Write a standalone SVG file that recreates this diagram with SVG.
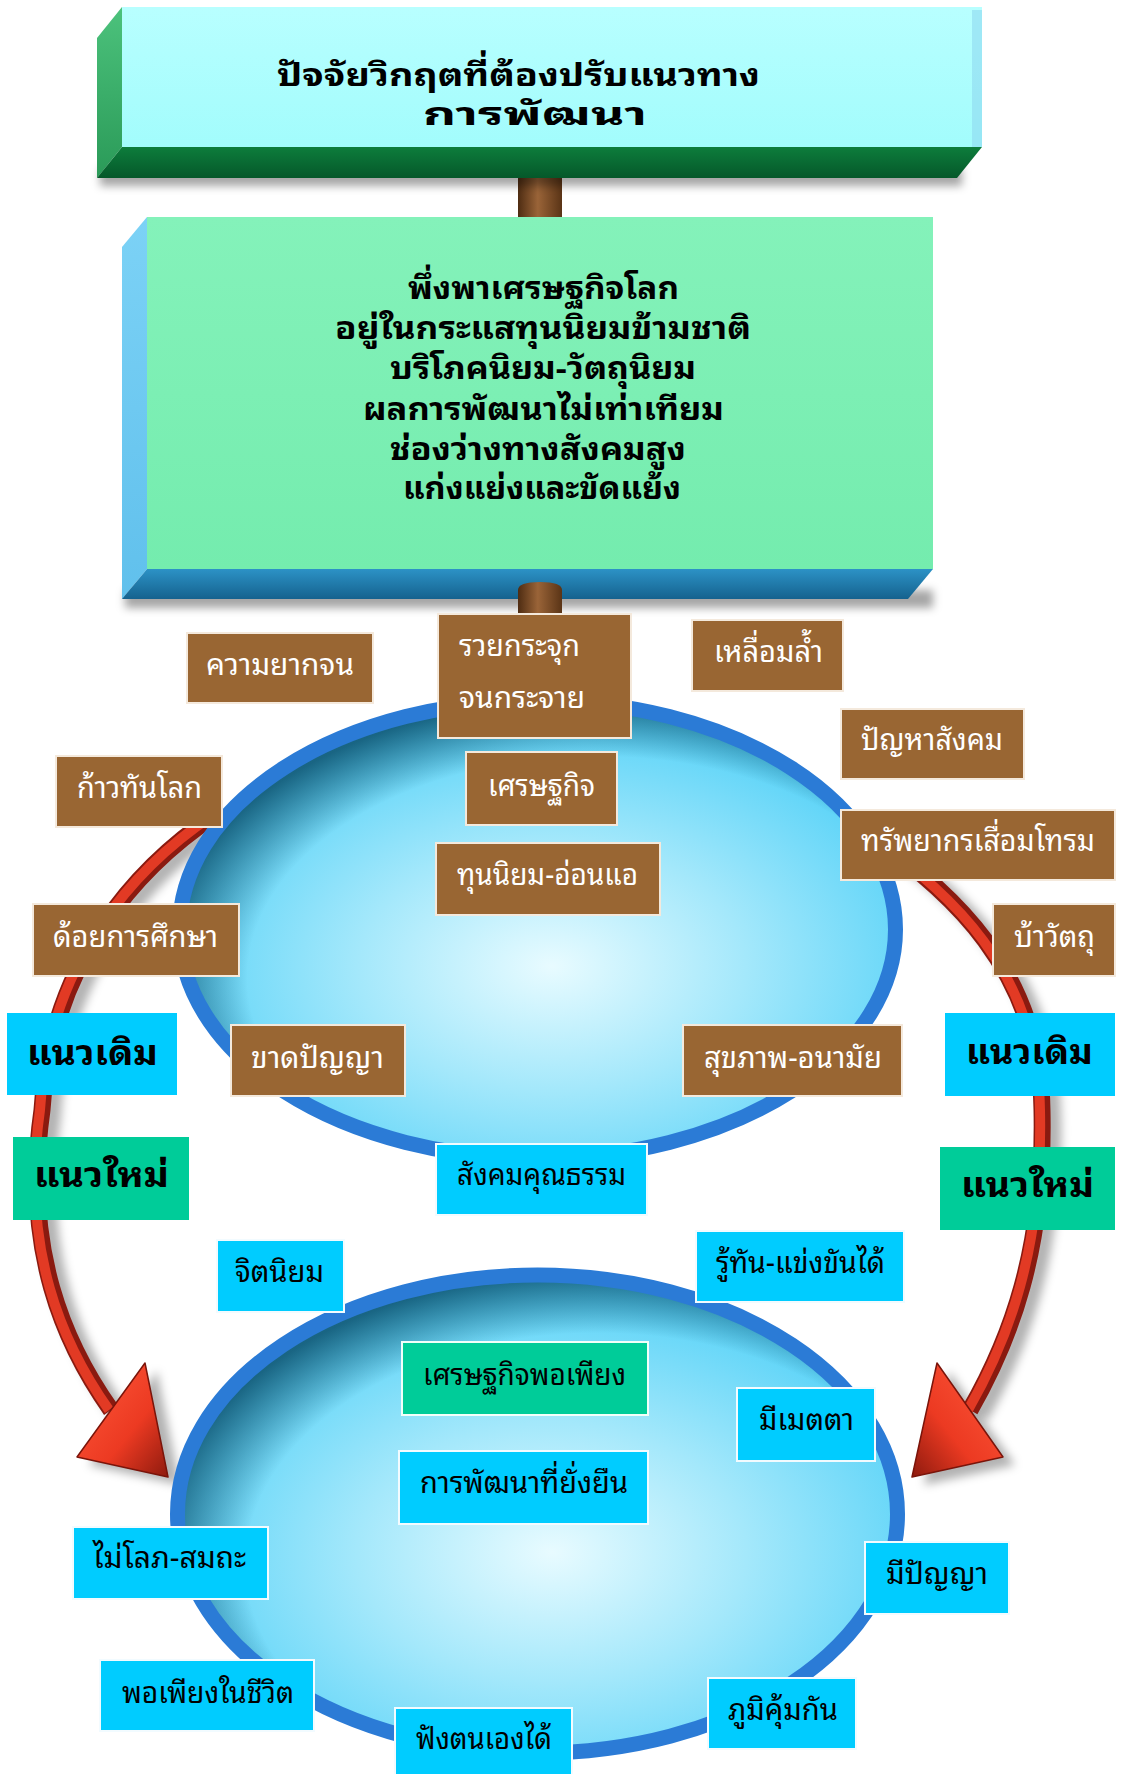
<svg xmlns="http://www.w3.org/2000/svg" width="1125" height="1774" viewBox="0 0 1125 1774">
<defs>
<style>
.th{font-family:'Noto Sans Thai Looped','Noto Sans Thai','Noto Sans','DejaVu Sans',sans-serif}
.big{font-size:32px;font-weight:bold;fill:#000}
.main{font-size:31px;font-weight:bold;fill:#000}
.lt{font-size:30px;fill:#fff}
.dt{font-size:30px;fill:#000}
.lab{font-size:34px;font-weight:bold;fill:#000}
.br{fill:#996633;stroke:#f4e9dc;stroke-width:2}
.cy{fill:#00ccff;stroke:#f2fbff;stroke-width:2}
.gr{fill:#00cc99;stroke:#f2fffa;stroke-width:2}
.ring{stroke:#2b7bd6;stroke-width:15}
</style>
<linearGradient id="g1f" x1="0" y1="0" x2="0" y2="1"><stop offset="0" stop-color="#b8ffff"/><stop offset="1" stop-color="#a2fcfc"/></linearGradient>
<linearGradient id="g1l" x1="0" y1="0" x2="0" y2="1"><stop offset="0" stop-color="#4cc27c"/><stop offset="1" stop-color="#2a9a58"/></linearGradient>
<linearGradient id="g1b" x1="0" y1="0" x2="0" y2="1"><stop offset="0" stop-color="#0d7d3c"/><stop offset="1" stop-color="#05582a"/></linearGradient>
<linearGradient id="g2f" x1="0" y1="0" x2="0" y2="1"><stop offset="0" stop-color="#84f2ba"/><stop offset="1" stop-color="#74ecae"/></linearGradient>
<linearGradient id="g2l" x1="0" y1="0" x2="0" y2="1"><stop offset="0" stop-color="#7cd2f6"/><stop offset="1" stop-color="#60c0ec"/></linearGradient>
<linearGradient id="g2b" x1="0" y1="0" x2="0" y2="1"><stop offset="0" stop-color="#2c92c6"/><stop offset="1" stop-color="#15628e"/></linearGradient>
<linearGradient id="post" x1="0" y1="0" x2="1" y2="0"><stop offset="0" stop-color="#4e2c12"/><stop offset="0.45" stop-color="#9a6438"/><stop offset="1" stop-color="#5a3416"/></linearGradient>
<radialGradient id="egg" cx="0.52" cy="0.58" r="0.6"><stop offset="0" stop-color="#e8fbff"/><stop offset="0.45" stop-color="#a4e8fb"/><stop offset="1" stop-color="#4ccff7"/></radialGradient>
<radialGradient id="ish" cx="0.58" cy="0.6" r="0.62" fx="0.6" fy="0.64"><stop offset="0.8" stop-color="#0a4a66" stop-opacity="0"/><stop offset="1" stop-color="#0a4a66" stop-opacity="0.8"/></radialGradient>
<linearGradient id="headL" x1="0" y1="0" x2="1" y2="1"><stop offset="0" stop-color="#ff5a3c"/><stop offset="0.6" stop-color="#ec3a22"/><stop offset="1" stop-color="#8e1a0e"/></linearGradient>
<linearGradient id="headR" x1="1" y1="0" x2="0" y2="1"><stop offset="0" stop-color="#ff5a3c"/><stop offset="0.6" stop-color="#ec3a22"/><stop offset="1" stop-color="#8e1a0e"/></linearGradient>
<filter id="blur" x="-20%" y="-20%" width="140%" height="140%"><feGaussianBlur stdDeviation="5"/></filter>
<filter id="blur2" x="-20%" y="-50%" width="140%" height="200%"><feGaussianBlur stdDeviation="4"/></filter>
</defs>
<rect width="1125" height="1774" fill="#fff"/>

<g id="connectors">
  <rect x="518" y="170" width="44" height="56" fill="url(#post)"/>
  <g id="arrow-left">
    <path d="M215,815 C140,865 50,960 42,1110 C22,1250 65,1345 111,1410" fill="none" stroke="#000" stroke-opacity="0.3" stroke-width="18" transform="translate(10,6)" filter="url(#blur)"/>
    <polygon points="145,1363 77,1457 168,1477" fill="#000" fill-opacity="0.3" transform="translate(12,8)" filter="url(#blur)"/>
    <path d="M215,815 C140,865 50,960 42,1110 C22,1250 65,1345 111,1410" fill="none" stroke="#8a1a10" stroke-width="17"/>
    <path d="M215,815 C140,865 50,960 42,1110 C22,1250 65,1345 111,1410" fill="none" stroke="#e23a24" stroke-width="10" transform="translate(-2,0)"/>
    <polygon points="145,1363 77,1457 168,1477" fill="url(#headL)" stroke="#7a140a" stroke-width="1.5" stroke-linejoin="round"/>
  </g>
  <g id="arrow-right">
    <path d="M870,835 C950,890 1040,970 1042,1110 C1045,1250 1010,1340 970,1410" fill="none" stroke="#000" stroke-opacity="0.3" stroke-width="18" transform="translate(10,6)" filter="url(#blur)"/>
    <polygon points="937,1363 1003,1457 912,1477" fill="#000" fill-opacity="0.3" transform="translate(12,8)" filter="url(#blur)"/>
    <path d="M870,835 C950,890 1040,970 1042,1110 C1045,1250 1010,1340 970,1410" fill="none" stroke="#8a1a10" stroke-width="17"/>
    <path d="M870,835 C950,890 1040,970 1042,1110 C1045,1250 1010,1340 970,1410" fill="none" stroke="#e23a24" stroke-width="10" transform="translate(-2,0)"/>
    <polygon points="937,1363 1003,1457 912,1477" fill="url(#headR)" stroke="#7a140a" stroke-width="1.5" stroke-linejoin="round"/>
  </g>
</g>

<g id="ellipse-top">
  <ellipse cx="537.5" cy="929.5" rx="358" ry="229" fill="url(#egg)"/>
  <ellipse cx="537.5" cy="929.5" rx="352" ry="223" fill="url(#ish)"/>
  <ellipse cx="537.5" cy="929.5" rx="358" ry="229" fill="none" class="ring"/>
</g>
<g id="ellipse-bottom">
  <ellipse cx="537.5" cy="1514" rx="360" ry="239" fill="url(#egg)"/>
  <ellipse cx="537.5" cy="1514" rx="354" ry="233" fill="url(#ish)"/>
  <ellipse cx="537.5" cy="1514" rx="360" ry="239" fill="none" class="ring"/>
</g>

<g id="box-title">
  <rect x="100" y="168" width="862" height="18" fill="#000" fill-opacity="0.35" filter="url(#blur2)"/>
  <rect x="122" y="7" width="860" height="140" fill="url(#g1f)"/>
  <rect x="972" y="10" width="10" height="137" fill="#8fd8f0" opacity="0.6"/>
  <polygon points="122,7 97,38 97,178 122,147" fill="url(#g1l)"/>
  <polygon points="122,147 982,147 957,178 97,178" fill="url(#g1b)"/>
  <text class="th big"><tspan x="277" y="86" textLength="483" lengthAdjust="spacingAndGlyphs">ปัจจัยวิกฤตที่ต้องปรับแนวทาง</tspan><tspan x="423" y="125" textLength="224" lengthAdjust="spacingAndGlyphs">การพัฒนา</tspan></text>
</g>

<g id="box-causes">
  <rect x="125" y="590" width="808" height="18" fill="#000" fill-opacity="0.35" filter="url(#blur2)"/>
  <rect x="147" y="217" width="786" height="352" fill="url(#g2f)"/>
  <polygon points="147,217 122,247 122,599 147,569" fill="url(#g2l)"/>
  <polygon points="147,569 933,569 908,599 122,599" fill="url(#g2b)"/>
  <text class="th main"><tspan x="408" y="299" textLength="271" lengthAdjust="spacingAndGlyphs">พึ่งพาเศรษฐกิจโลก</tspan><tspan x="335" y="339" textLength="416" lengthAdjust="spacingAndGlyphs">อยู่ในกระแสทุนนิยมข้ามชาติ</tspan><tspan x="390" y="379" textLength="306" lengthAdjust="spacingAndGlyphs">บริโภคนิยม-วัตถุนิยม</tspan><tspan x="363" y="420" textLength="361" lengthAdjust="spacingAndGlyphs">ผลการพัฒนาไม่เท่าเทียม</tspan><tspan x="390" y="460" textLength="296" lengthAdjust="spacingAndGlyphs">ช่องว่างทางสังคมสูง</tspan><tspan x="403" y="499" textLength="278" lengthAdjust="spacingAndGlyphs">แก่งแย่งและขัดแย้ง</tspan></text>
</g>
<path id="post2" d="M518,620 V590 Q518,582 540,582 Q562,582 562,590 V620 Z" fill="url(#post)"/>

<g id="n-poverty"><rect class="br" x="187" y="633" width="186" height="70"/><text class="th lt" x="206" y="675" textLength="148" lengthAdjust="spacingAndGlyphs">ความยากจน</text></g>
<g id="n-rich"><rect class="br" x="438" y="614" width="193" height="124"/><text class="th lt"><tspan x="459" y="656" textLength="121" lengthAdjust="spacingAndGlyphs">รวยกระจุก</tspan><tspan x="459" y="708" textLength="126" lengthAdjust="spacingAndGlyphs">จนกระจาย</tspan></text></g>
<g id="n-inequal"><rect class="br" x="692" y="620" width="151" height="71"/><text class="th lt" x="714" y="662" textLength="109" lengthAdjust="spacingAndGlyphs">เหลื่อมล้ำ</text></g>
<g id="n-social"><rect class="br" x="841" y="709" width="183" height="70"/><text class="th lt" x="861" y="750" textLength="142" lengthAdjust="spacingAndGlyphs">ปัญหาสังคม</text></g>
<g id="n-keepup"><rect class="br" x="56" y="756" width="166" height="71"/><text class="th lt" x="77" y="798" textLength="125" lengthAdjust="spacingAndGlyphs">ก้าวทันโลก</text></g>
<g id="n-econ"><rect class="br" x="466" y="752" width="151" height="73"/><text class="th lt" x="488" y="796" textLength="107" lengthAdjust="spacingAndGlyphs">เศรษฐกิจ</text></g>
<g id="n-resource"><rect class="br" x="841" y="810" width="274" height="70"/><text class="th lt" x="861" y="851" textLength="234" lengthAdjust="spacingAndGlyphs">ทรัพยากรเสื่อมโทรม</text></g>
<g id="n-capital"><rect class="br" x="436" y="843" width="224" height="72"/><text class="th lt" x="457" y="885" textLength="181" lengthAdjust="spacingAndGlyphs">ทุนนิยม-อ่อนแอ</text></g>
<g id="n-edu"><rect class="br" x="33" y="904" width="206" height="72"/><text class="th lt" x="53" y="947" textLength="165" lengthAdjust="spacingAndGlyphs">ด้อยการศึกษา</text></g>
<g id="n-material"><rect class="br" x="993" y="904" width="122" height="72"/><text class="th lt" x="1014" y="947" textLength="81" lengthAdjust="spacingAndGlyphs">บ้าวัตถุ</text></g>
<g id="n-nowisdom"><rect class="br" x="231" y="1025" width="174" height="71"/><text class="th lt" x="251" y="1068" textLength="133" lengthAdjust="spacingAndGlyphs">ขาดปัญญา</text></g>
<g id="n-health"><rect class="br" x="683" y="1025" width="219" height="71"/><text class="th lt" x="704" y="1068" textLength="178" lengthAdjust="spacingAndGlyphs">สุขภาพ-อนามัย</text></g>

<g id="n-old-left"><rect x="7" y="1013" width="170" height="82" fill="#00ccff"/><text class="th lab" x="27" y="1065" textLength="131" lengthAdjust="spacingAndGlyphs">แนวเดิม</text></g>
<g id="n-old-right"><rect x="945" y="1013" width="170" height="83" fill="#00ccff"/><text class="th lab" x="966" y="1064" textLength="127" lengthAdjust="spacingAndGlyphs">แนวเดิม</text></g>
<g id="n-new-left"><rect x="13" y="1137" width="176" height="83" fill="#00cc99"/><text class="th lab" x="34" y="1187" textLength="135" lengthAdjust="spacingAndGlyphs">แนวใหม่</text></g>
<g id="n-new-right"><rect x="940" y="1147" width="175" height="83" fill="#00cc99"/><text class="th lab" x="961" y="1197" textLength="133" lengthAdjust="spacingAndGlyphs">แนวใหม่</text></g>

<g id="n-moral"><rect class="cy" x="436" y="1144" width="211" height="71"/><text class="th dt" x="457" y="1185" textLength="169" lengthAdjust="spacingAndGlyphs">สังคมคุณธรรม</text></g>
<g id="n-mind"><rect class="cy" x="217" y="1240" width="127" height="72"/><text class="th dt" x="235" y="1282" textLength="89" lengthAdjust="spacingAndGlyphs">จิตนิยม</text></g>
<g id="n-compete"><rect class="cy" x="696" y="1231" width="208" height="71"/><text class="th dt" x="716" y="1273" textLength="169" lengthAdjust="spacingAndGlyphs">รู้ทัน-แข่งขันได้</text></g>
<g id="n-sufficiency"><rect class="gr" x="402" y="1342" width="246" height="73"/><text class="th dt" x="423" y="1385" textLength="203" lengthAdjust="spacingAndGlyphs">เศรษฐกิจพอเพียง</text></g>
<g id="n-kind"><rect class="cy" x="737" y="1388" width="138" height="73"/><text class="th dt" x="759" y="1430" textLength="95" lengthAdjust="spacingAndGlyphs">มีเมตตา</text></g>
<g id="n-sustain"><rect class="cy" x="399" y="1451" width="249" height="73"/><text class="th dt" x="420" y="1493" textLength="208" lengthAdjust="spacingAndGlyphs">การพัฒนาที่ยั่งยืน</text></g>
<g id="n-nogreed"><rect class="cy" x="73" y="1527" width="195" height="72"/><text class="th dt" x="93" y="1568" textLength="153" lengthAdjust="spacingAndGlyphs">ไม่โลภ-สมถะ</text></g>
<g id="n-wise"><rect class="cy" x="865" y="1542" width="144" height="72"/><text class="th dt" x="886" y="1584" textLength="102" lengthAdjust="spacingAndGlyphs">มีปัญญา</text></g>
<g id="n-enough"><rect class="cy" x="100" y="1660" width="214" height="71"/><text class="th dt" x="122" y="1703" textLength="172" lengthAdjust="spacingAndGlyphs">พอเพียงในชีวิต</text></g>
<g id="n-immune"><rect class="cy" x="708" y="1678" width="148" height="71"/><text class="th dt" x="728" y="1720" textLength="110" lengthAdjust="spacingAndGlyphs">ภูมิคุ้มกัน</text></g>
<g id="n-selfreliant"><rect class="cy" x="395" y="1708" width="177" height="70"/><text class="th dt" x="416" y="1749" textLength="136" lengthAdjust="spacingAndGlyphs">ฟังตนเองได้</text></g>
</svg>
